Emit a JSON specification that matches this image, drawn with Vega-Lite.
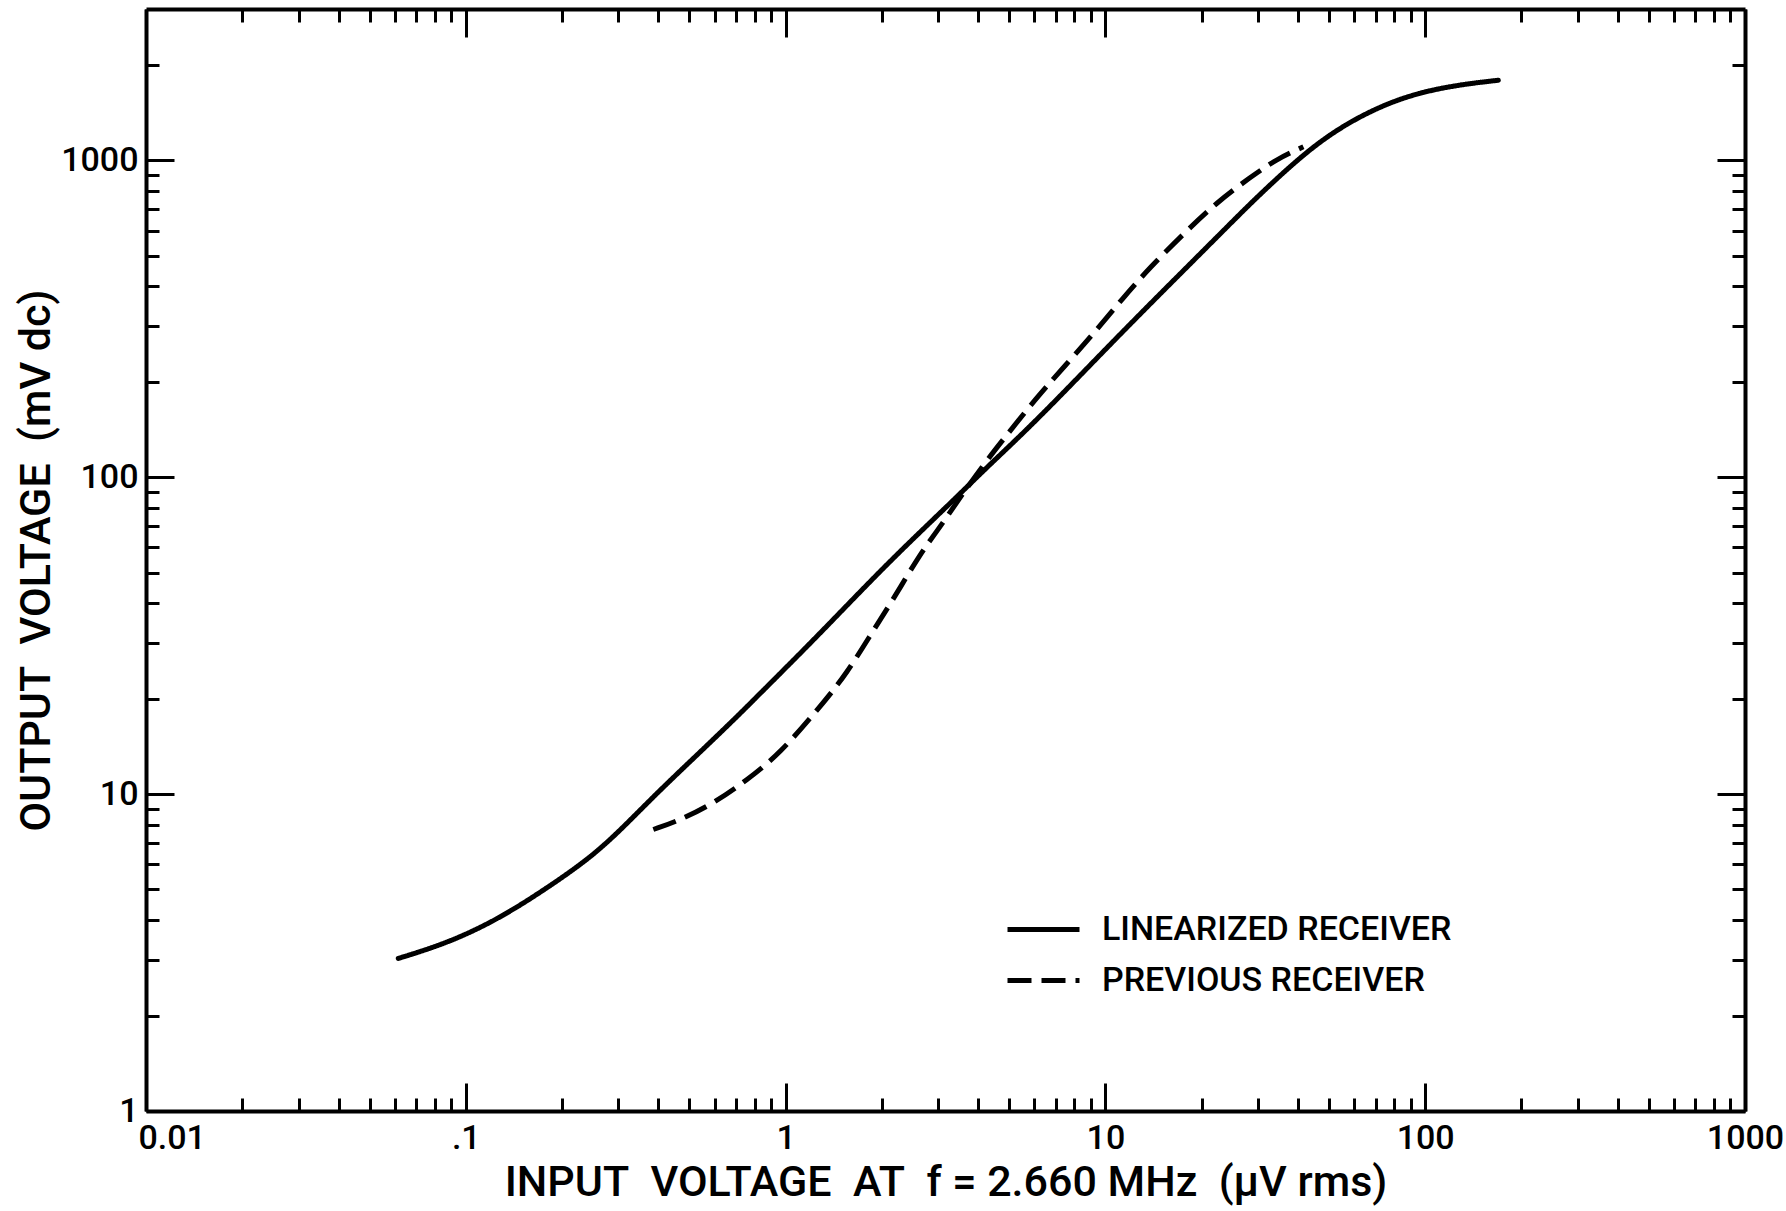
{
  "$schema": "https://vega.github.io/schema/vega-lite/v6.json",
  "width": 1599,
  "height": 1102,
  "autosize": {"type": "none"},
  "padding": {"left": 146, "top": 9, "right": 41, "bottom": 100},
  "background": "white",
  "config": {
    "view": {"stroke": null},
    "axis": {
      "grid": false,
      "domainColor": "black",
      "domainWidth": 4,
      "tickColor": "black",
      "tickWidth": 3,
      "labelColor": "black",
      "titleColor": "black",
      "labelFont": "Roboto",
      "titleFont": "Roboto",
      "labelFontSize": 34,
      "labelFontWeight": 500,
      "titleFontSize": 43,
      "titleFontWeight": 500,
      "labelOverlap": false,
      "labelFlush": false,
      "labelBound": false
    },
    "legend": {
      "labelFont": "Roboto",
      "labelFontSize": 34,
      "labelFontWeight": 500,
      "labelColor": "black",
      "labelLimit": 0
    }
  },
  "data": {
    "values": [
      {"s": "LINEARIZED RECEIVER", "x": 0.0615, "y": 3.03},
      {"s": "LINEARIZED RECEIVER", "x": 0.0871, "y": 3.38},
      {"s": "LINEARIZED RECEIVER", "x": 0.1249, "y": 4.0},
      {"s": "LINEARIZED RECEIVER", "x": 0.179, "y": 5.04},
      {"s": "LINEARIZED RECEIVER", "x": 0.2388, "y": 6.18},
      {"s": "LINEARIZED RECEIVER", "x": 0.2892, "y": 7.32},
      {"s": "LINEARIZED RECEIVER", "x": 0.3505, "y": 8.89},
      {"s": "LINEARIZED RECEIVER", "x": 0.4146, "y": 10.53},
      {"s": "LINEARIZED RECEIVER", "x": 0.527, "y": 13.25},
      {"s": "LINEARIZED RECEIVER", "x": 0.686, "y": 17.09},
      {"s": "LINEARIZED RECEIVER", "x": 0.7925, "y": 19.76},
      {"s": "LINEARIZED RECEIVER", "x": 1.281, "y": 32.06},
      {"s": "LINEARIZED RECEIVER", "x": 2.071, "y": 53.3},
      {"s": "LINEARIZED RECEIVER", "x": 3.345, "y": 84.4},
      {"s": "LINEARIZED RECEIVER", "x": 4.255, "y": 107.4},
      {"s": "LINEARIZED RECEIVER", "x": 6.1, "y": 150.8},
      {"s": "LINEARIZED RECEIVER", "x": 10.85, "y": 276.1},
      {"s": "LINEARIZED RECEIVER", "x": 17.52, "y": 448},
      {"s": "LINEARIZED RECEIVER", "x": 25.1, "y": 644},
      {"s": "LINEARIZED RECEIVER", "x": 29.7, "y": 763},
      {"s": "LINEARIZED RECEIVER", "x": 42.6, "y": 1071},
      {"s": "LINEARIZED RECEIVER", "x": 58.2, "y": 1331},
      {"s": "LINEARIZED RECEIVER", "x": 83.4, "y": 1577},
      {"s": "LINEARIZED RECEIVER", "x": 119.6, "y": 1717},
      {"s": "LINEARIZED RECEIVER", "x": 169.3, "y": 1788},
      {"s": "PREVIOUS RECEIVER", "x": 0.3858, "y": 7.73},
      {"s": "PREVIOUS RECEIVER", "x": 0.4675, "y": 8.27},
      {"s": "PREVIOUS RECEIVER", "x": 0.594, "y": 9.33},
      {"s": "PREVIOUS RECEIVER", "x": 0.7557, "y": 11.05},
      {"s": "PREVIOUS RECEIVER", "x": 0.9605, "y": 13.42},
      {"s": "PREVIOUS RECEIVER", "x": 1.281, "y": 18.83},
      {"s": "PREVIOUS RECEIVER", "x": 1.553, "y": 23.99},
      {"s": "PREVIOUS RECEIVER", "x": 1.88, "y": 32.84},
      {"s": "PREVIOUS RECEIVER", "x": 2.226, "y": 42.87},
      {"s": "PREVIOUS RECEIVER", "x": 2.633, "y": 57.3},
      {"s": "PREVIOUS RECEIVER", "x": 3.04, "y": 69.5},
      {"s": "PREVIOUS RECEIVER", "x": 3.511, "y": 86.4},
      {"s": "PREVIOUS RECEIVER", "x": 4.255, "y": 112.8},
      {"s": "PREVIOUS RECEIVER", "x": 4.682, "y": 127.6},
      {"s": "PREVIOUS RECEIVER", "x": 6.1, "y": 178.6},
      {"s": "PREVIOUS RECEIVER", "x": 7.568, "y": 227.6},
      {"s": "PREVIOUS RECEIVER", "x": 9.167, "y": 283},
      {"s": "PREVIOUS RECEIVER", "x": 11.38, "y": 369},
      {"s": "PREVIOUS RECEIVER", "x": 13.79, "y": 459},
      {"s": "PREVIOUS RECEIVER", "x": 17.52, "y": 585},
      {"s": "PREVIOUS RECEIVER", "x": 22.29, "y": 736},
      {"s": "PREVIOUS RECEIVER", "x": 28.33, "y": 882},
      {"s": "PREVIOUS RECEIVER", "x": 34.3, "y": 1008},
      {"s": "PREVIOUS RECEIVER", "x": 41.6, "y": 1102}
    ]
  },
  "resolve": {"axis": {"x": "independent", "y": "independent"}},
  "layer": [
    {
      "transform": [{"filter": "datum.s == 'LINEARIZED RECEIVER'"}],
      "mark": {"type": "line", "color": "black", "strokeWidth": 5, "interpolate": "basis", "strokeCap": "round"},
      "encoding": {
        "x": {
          "field": "x", "type": "quantitative",
          "scale": {"type": "log", "domain": [0.01, 1000], "nice": false},
          "axis": {
            "orient": "bottom",
            "values": [0.01,0.02,0.03,0.04,0.05,0.06,0.07,0.08,0.09,0.1,0.2,0.3,0.4,0.5,0.6,0.7,0.8,0.9,1,2,3,4,5,6,7,8,9,10,20,30,40,50,60,70,80,90,100,200,300,400,500,600,700,800,900,1000],
            "title": "INPUT\u00a0\u00a0VOLTAGE\u00a0\u00a0AT\u00a0\u00a0f = 2.660 MHz\u00a0\u00a0(μV rms)",
            "labelExpr": "datum.value == 0.01 ? '0.01' : (datum.value == 0.1 ? '.1' : (abs(log(datum.value)/LN10 - round(log(datum.value)/LN10)) < 0.001 ? format(datum.value, 'd') : ''))",
            "labelAlign": {"condition": {"test": "datum.value == 0.01", "value": "left"}, "value": "center"},
            "labelOffset": {"condition": {"test": "datum.value == 0.01", "value": -8}, "value": 0},
            "tickSize": {"condition": {"test": "abs(log(datum.value)/LN10 - round(log(datum.value)/LN10)) < 0.001", "value": -28}, "value": -13},
            "labelPadding": 38,
            "titlePadding": -9
          }
        },
        "y": {
          "field": "y", "type": "quantitative",
          "scale": {"type": "log", "domain": [1, 3000], "nice": false},
          "axis": {
            "orient": "left",
            "values": [1,2,3,4,5,6,7,8,9,10,20,30,40,50,60,70,80,90,100,200,300,400,500,600,700,800,900,1000,2000],
            "title": "OUTPUT\u00a0\u00a0VOLTAGE\u00a0\u00a0(mV dc)",
            "labelExpr": "abs(log(datum.value)/LN10 - round(log(datum.value)/LN10)) < 0.001 ? format(datum.value, 'd') : ''",
            "tickSize": {"condition": {"test": "abs(log(datum.value)/LN10 - round(log(datum.value)/LN10)) < 0.001", "value": -28}, "value": -13},
            "labelPadding": 36,
            "titlePadding": 2
          }
        },
        "strokeDash": {
          "field": "s", "type": "nominal",
          "scale": {"domain": ["LINEARIZED RECEIVER", "PREVIOUS RECEIVER"], "range": [[1, 0], [24, 10]]},
          "legend": {
            "orient": "none", "legendX": 859, "legendY": 895, "title": null,
            "symbolType": "stroke", "symbolSize": 5184, "symbolStrokeWidth": 5,
            "symbolStrokeColor": "black", "labelOffset": 20, "rowPadding": 0, "clipHeight": 51, "padding": 0
          }
        }
      }
    },
    {
      "transform": [{"filter": "datum.s == 'PREVIOUS RECEIVER'"}],
      "mark": {"type": "line", "color": "black", "strokeWidth": 5, "interpolate": "basis"},
      "encoding": {
        "x": {
          "field": "x", "type": "quantitative",
          "axis": {
            "orient": "top",
            "values": [0.01,0.02,0.03,0.04,0.05,0.06,0.07,0.08,0.09,0.1,0.2,0.3,0.4,0.5,0.6,0.7,0.8,0.9,1,2,3,4,5,6,7,8,9,10,20,30,40,50,60,70,80,90,100,200,300,400,500,600,700,800,900,1000],
            "labels": false, "title": null,
            "tickSize": {"condition": {"test": "abs(log(datum.value)/LN10 - round(log(datum.value)/LN10)) < 0.001", "value": -28}, "value": -13}
          }
        },
        "y": {
          "field": "y", "type": "quantitative",
          "axis": {
            "orient": "right",
            "values": [1,2,3,4,5,6,7,8,9,10,20,30,40,50,60,70,80,90,100,200,300,400,500,600,700,800,900,1000,2000],
            "labels": false, "title": null,
            "tickSize": {"condition": {"test": "abs(log(datum.value)/LN10 - round(log(datum.value)/LN10)) < 0.001", "value": -28}, "value": -13}
          }
        },
        "strokeDash": {"field": "s", "type": "nominal"}
      }
    }
  ]
}
